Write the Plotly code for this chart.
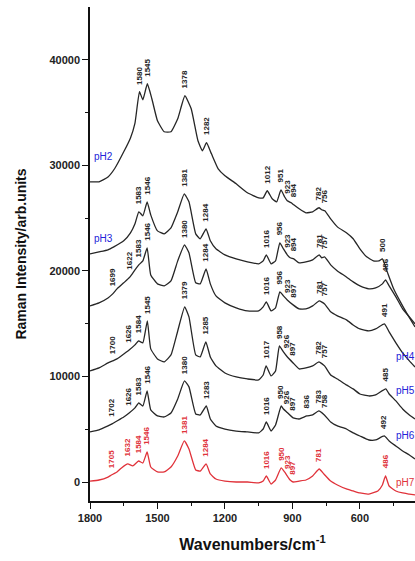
import numpy as np
import plotly.graph_objects as go

# Raman spectra of the sample at different pH (offset vertically), cm^-1 vs arb. units
wn_ph2 = [1800, 1760, 1720, 1690, 1650, 1620, 1600, 1580, 1565, 1545, 1525, 1500, 1470, 1440,
          1410, 1378, 1350, 1320, 1300, 1282, 1260, 1230, 1200, 1150, 1100, 1050, 1030, 1012,
          990, 970, 951, 935, 923, 905, 894, 870, 840, 810, 782, 770, 756, 730, 700, 660, 630,
          600, 570, 540, 515, 500, 480, 450, 420, 390, 355]
int_ph2 = [28440, 28440, 28900, 29700, 31280, 32600, 34000, 36970, 36210, 37730, 36310, 34220,
           33180, 33180, 34410, 36590, 35360, 32330, 31380, 32140, 31090, 29670, 29010, 28250,
           27400, 26920, 26920, 27590, 26830, 26540, 27680, 27020, 26640, 26450, 26260, 25880,
           25500, 25600, 25980, 25790, 25690, 24930, 24170, 23610, 23040, 22090, 21330, 20950,
           20950, 21140, 20000, 18300, 17060, 15930, 14690]

wn_ph3 = [1800, 1760, 1720, 1694, 1650, 1620, 1600, 1583, 1565, 1546, 1530, 1500, 1470, 1440,
          1410, 1381, 1360, 1330, 1310, 1284, 1265, 1240, 1200, 1150, 1100, 1050, 1030, 1016,
          995, 975, 956, 940, 923, 910, 894, 870, 840, 810, 781, 770, 757, 730, 700, 660, 630,
          600, 560, 530, 500, 486, 470, 440, 410, 380, 355]
int_ph3 = [21610, 21800, 22000, 22280, 22850, 23600, 24460, 25600, 25220, 26540, 25310, 23790,
           23510, 24080, 25600, 27300, 26540, 23510, 23040, 23980, 22850, 22090, 21520, 21140,
           20860, 20670, 20950, 21520, 20670, 20950, 22660, 22090, 21520, 21240, 21140, 20760,
           20860, 21050, 21520, 21240, 21330, 20570, 20000, 19430, 18960, 18580, 18300, 18390,
           18770, 19150, 18580, 17540, 16400, 15640, 14980]

wn_ph4 = [1800, 1760, 1720, 1699, 1680, 1650, 1622, 1600, 1583, 1565, 1546, 1530, 1500, 1470,
          1440, 1410, 1380, 1360, 1330, 1310, 1284, 1265, 1240, 1200, 1150, 1100, 1050, 1030,
          1016, 995, 975, 956, 940, 923, 897, 870, 840, 810, 781, 757, 730, 700, 660, 630, 600,
          560, 530, 491, 470, 440, 410, 380, 355]
int_ph4 = [16680, 16970, 17440, 17820, 18300, 18870, 19430, 20100, 20570, 20950, 22180, 19620,
           18770, 18580, 19050, 20950, 22470, 21710, 18870, 18770, 20190, 18770, 17630, 16970,
           16500, 16210, 16210, 16590, 17060, 16210, 16500, 18010, 17630, 17250, 16780, 16400,
           16400, 16680, 17160, 16870, 16120, 15740, 15360, 14880, 14500, 14310, 14500, 14980,
           14220, 13180, 12230, 11470, 10900]

wn_ph5 = [1800, 1760, 1720, 1700, 1680, 1650, 1626, 1600, 1584, 1565, 1545, 1530, 1500, 1470,
          1440, 1410, 1379, 1360, 1330, 1310, 1285, 1265, 1240, 1200, 1150, 1100, 1050, 1030,
          1017, 995, 975, 958, 940, 926, 897, 870, 840, 810, 782, 757, 730, 700, 660, 630, 600,
          560, 530, 485, 470, 440, 410, 380, 355]
int_ph5 = [10520, 10810, 11280, 11470, 11660, 12130, 12510, 12990, 13370, 13180, 15260, 12610,
           11660, 11380, 12040, 14310, 16590, 15640, 12040, 11850, 13270, 11850, 11000, 10330,
           9950, 9760, 9670, 10140, 11000, 10050, 10520, 12890, 12320, 11940, 11280, 10710,
           10810, 11000, 11380, 11000, 10140, 9760, 9200, 8820, 8340, 8150, 8250, 8820, 8340,
           7680, 6920, 6350, 5970]

wn_ph6 = [1800, 1760, 1720, 1702, 1680, 1650, 1626, 1600, 1583, 1565, 1546, 1530, 1500, 1470,
          1440, 1410, 1380, 1360, 1330, 1310, 1283, 1265, 1240, 1200, 1150, 1100, 1050, 1030,
          1016, 995, 975, 950, 940, 926, 897, 870, 836, 810, 783, 758, 730, 700, 660, 630, 600,
          560, 530, 492, 470, 440, 410, 380, 355]
int_ph6 = [4740, 4930, 5310, 5500, 5780, 6160, 6540, 7020, 7490, 7200, 8630, 6830, 6260, 6160,
           6540, 7870, 9570, 9010, 6450, 6350, 7200, 5970, 5310, 5020, 4830, 4740, 4650, 5020,
           5690, 4830, 5400, 7200, 6920, 6640, 6070, 5970, 6260, 6350, 6730, 6350, 5690, 5310,
           5020, 4650, 4360, 3980, 3980, 4360, 3890, 3410, 2940, 2560, 2180]

wn_ph7 = [1800, 1760, 1720, 1705, 1680, 1660, 1632, 1610, 1584, 1565, 1546, 1530, 1500, 1470,
          1440, 1410, 1381, 1360, 1330, 1310, 1284, 1265, 1240, 1200, 1150, 1100, 1050, 1030,
          1016, 995, 975, 950, 935, 923, 910, 897, 870, 840, 810, 781, 760, 730, 700, 660, 630,
          600, 560, 520, 500, 486, 470, 440, 410, 380, 355]
int_ph7 = [90, 190, 470, 660, 950, 1330, 1710, 1520, 1990, 1800, 2840, 1420, 950, 950, 1420,
           2460, 3890, 3130, 1140, 1040, 1710, 760, 280, 90, 0, 0, -90, 90, 570, -190, 190, 1330,
           950, 570, 190, 0, 90, 190, 570, 1230, 760, 90, -280, -660, -850, -1040, -1140, -850,
           -280, 570, -380, -850, -1040, -1140, -1230]

# Assigned band positions (cm^-1) labelled on each spectrum
peaks_ph2 = [1580, 1545, 1378, 1282, 1012, 951, 923, 894, 782, 756, 500]
peaks_ph3 = [1583, 1546, 1381, 1284, 1016, 956, 923, 894, 781, 757, 486]
peaks_ph4 = [1699, 1622, 1583, 1546, 1380, 1284, 1016, 956, 923, 897, 781, 757, 491]
peaks_ph5 = [1700, 1626, 1584, 1545, 1379, 1285, 1017, 958, 926, 897, 782, 757, 485]
peaks_ph6 = [1702, 1626, 1583, 1546, 1380, 1283, 1016, 950, 926, 897, 836, 783, 758, 492]
peaks_ph7 = [1705, 1632, 1584, 1546, 1381, 1284, 1016, 950, 923, 897, 781, 486]

y_ticks = [0, 10000, 20000, 30000, 40000]
x_ticks = [1800, 1500, 1200, 900, 600]

BLACK = "#262626"
RED = "#e0323a"
BLUE = "#2323d8"

spectra = [
    ("pH2", wn_ph2, int_ph2, peaks_ph2, BLACK),
    ("pH3", wn_ph3, int_ph3, peaks_ph3, BLACK),
    ("pH4", wn_ph4, int_ph4, peaks_ph4, BLACK),
    ("pH5", wn_ph5, int_ph5, peaks_ph5, BLACK),
    ("pH6", wn_ph6, int_ph6, peaks_ph6, BLACK),
    ("pH7", wn_ph7, int_ph7, peaks_ph7, RED),
]

fig = go.Figure()
annotations = []

for name, wn, inten, peaks, color in spectra:
    fig.add_trace(go.Scatter(
        x=wn, y=inten, mode="lines", name=name,
        line=dict(color=color, width=1.3, shape="spline", smoothing=0.4),
        showlegend=False, hoverinfo="skip",
    ))
    # band labels sit just above the curve at each band position
    w_inc = np.array(wn[::-1], dtype=float)
    i_inc = np.array(inten[::-1], dtype=float)
    for p in peaks:
        yv = float(np.interp(p, w_inc, i_inc)) + 500
        annotations.append(dict(
            x=p, y=yv, text=str(p), textangle=-90, showarrow=False,
            xanchor="center", yanchor="bottom",
            font=dict(family="Arial", size=8, color=color, weight="bold"),
        ))

# pH tags beside the curves
left_tags = {"pH2": 30810, "pH3": 23040}
right_tags = {"pH4": 11850, "pH5": 8630, "pH6": 4360, "pH7": 0}
for name, yv in left_tags.items():
    annotations.append(dict(x=1790, y=yv, text=name, showarrow=False,
                            xanchor="left", yanchor="middle",
                            font=dict(family="Arial", size=10, color=BLUE)))
for name, yv in right_tags.items():
    annotations.append(dict(x=450, y=yv, text=name, showarrow=False,
                            xanchor="left", yanchor="middle",
                            font=dict(family="Arial", size=10,
                                      color=RED if name == "pH7" else BLUE)))

tick_font = dict(family="Arial", size=11, color="#222", weight="bold")

fig.update_layout(
    width=415, height=561,
    margin=dict(l=90, r=0, t=7, b=60),
    paper_bgcolor="white", plot_bgcolor="white",
    annotations=annotations,
    xaxis=dict(
        range=[1800, 355], tickvals=x_ticks, ticks="outside", ticklen=6, tickwidth=1.3,
        tickcolor="#111", showline=True, linecolor="#111", linewidth=1.5,
        showgrid=False, zeroline=False, tickfont=tick_font, tickformat="d",
        minor=dict(tickvals=[1650, 1350, 1050, 750, 450], ticks="outside", ticklen=3,
                   tickcolor="#111", showgrid=False),
        title=dict(text="Wavenumbers/cm<sup>-1</sup>", standoff=16,
                   font=dict(family="Arial", size=16, color="#111", weight="bold")),
    ),
    yaxis=dict(
        range=[-1800, 45000], tickvals=y_ticks, ticks="outside", ticklen=6, tickwidth=1.3,
        tickcolor="#111", showline=True, linecolor="#111", linewidth=1.5,
        showgrid=False, zeroline=False, tickfont=tick_font, tickformat="d",
        minor=dict(tickvals=[5000, 15000, 25000, 35000], ticks="outside", ticklen=3,
                   tickcolor="#111", showgrid=False),
        title=dict(text="Raman Intensity/arb.units", standoff=20,
                   font=dict(family="Arial", size=14, color="#111", weight="bold")),
    ),
)

fig.write_html("out.html")
